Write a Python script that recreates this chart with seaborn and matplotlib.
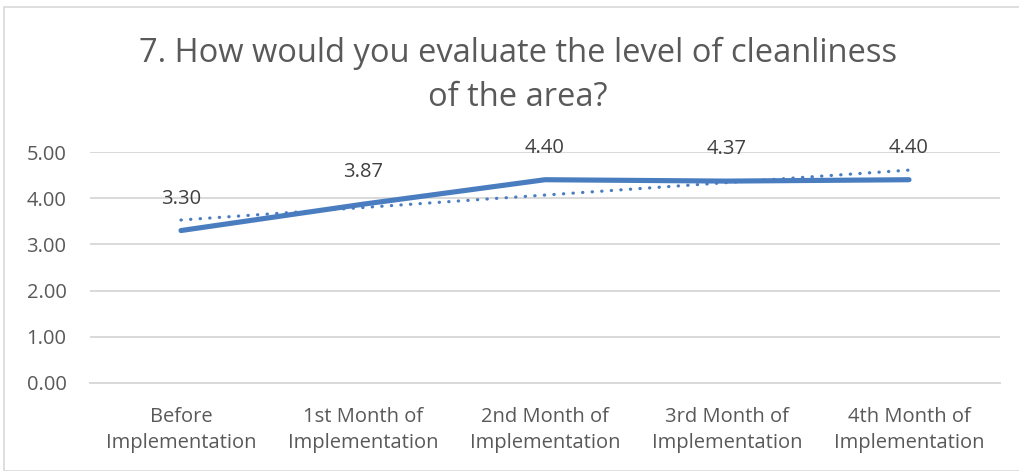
import numpy as np
import pandas as pd
import matplotlib
matplotlib.use("Agg")
import matplotlib.pyplot as plt
from matplotlib.patches import Rectangle
import seaborn as sns

# Survey results: average cleanliness rating per period
periods = ["Before\nImplementation", "1st Month of\nImplementation", "2nd Month of\nImplementation",
           "3rd Month of\nImplementation", "4th Month of\nImplementation"]
ratings = [3.30, 3.87, 4.40, 4.37, 4.40]
y_ticks = [0.0, 1.0, 2.0, 3.0, 4.0, 5.0]
title = "7. How would you evaluate the level of cleanliness\nof the area?"

sns.set_theme(style="white")
plt.rcParams["font.family"] = ["Open Sans", "DejaVu Sans"]

W, H = 1019, 471
fig = plt.figure(figsize=(W / 100, H / 100), dpi=100)
ax = fig.add_axes([90 / W, 1 - 383 / H, 910 / W, 231 / H])

df = pd.DataFrame({"period": periods, "rating": ratings, "pos": np.arange(len(periods))})

blue = "#4A7DC0"
sns.lineplot(data=df, x="pos", y="rating", ax=ax, color=blue, linewidth=3.7,
             solid_capstyle="round", zorder=3)

# Linear trendline
coef = np.polyfit(df["pos"], df["rating"], 1)
trend = np.polyval(coef, df["pos"])
ax.plot(df["pos"], trend, color=blue, linewidth=2.3, linestyle=(0, (0.1, 2.9)),
        dash_capstyle="round", zorder=2)

# Value labels above each point
for xp, v in zip(df["pos"], df["rating"]):
    ax.annotate(f"{v:.2f}", (xp, v), xytext=(0, 23), textcoords="offset points",
                ha="center", va="center", fontsize=14.5, color="#404040")

ax.set_xlim(-0.5, len(periods) - 0.5)
ax.set_ylim(0, 5)
ax.set_yticks(y_ticks)
ax.set_yticklabels([f"{t:.2f}" for t in y_ticks])
ax.set_xticks(df["pos"])
ax.set_xticklabels(periods, linespacing=1.38)
ax.set_xlabel("")
ax.set_ylabel("")
ax.grid(axis="y", color="#D9D9D9", linewidth=1.4)
ax.set_axisbelow(True)
for s in ["top", "right", "left"]:
    ax.spines[s].set_visible(False)
ax.spines["bottom"].set_color("#D9D9D9")
ax.spines["bottom"].set_linewidth(1.4)
ax.tick_params(axis="both", length=0, labelsize=14.5, labelcolor="#595959")
ax.tick_params(axis="y", pad=17)
ax.tick_params(axis="x", pad=17.5)

fig.text(518 / W, 1 - 37 / H, title, ha="center", va="top", fontsize=23.5,
         color="#595959", linespacing=1.42)

# Chart area border
fig.patches.append(Rectangle((4 / W, 0), 1.2, 1 - 7 / H, transform=fig.transFigure,
                             fill=False, edgecolor="#D9D9D9", linewidth=1.2))

fig.savefig("out.png", dpi=100)
